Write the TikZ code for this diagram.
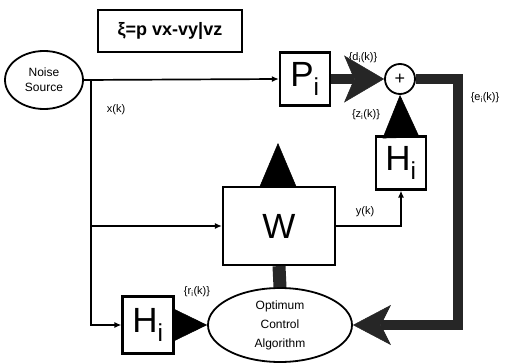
\documentclass[tikz,border=0pt]{standalone}
\usepackage{fontspec}
\setmainfont{Liberation Sans}
\usetikzlibrary{arrows.meta,shapes.geometric}
\begin{document}
\begin{tikzpicture}[x=1pt,y=-1pt,
  box/.style={draw, line width=2.2pt, minimum width=50pt, minimum height=53pt, inner sep=0pt, font=\fontsize{35}{35}\selectfont},
  lbl/.style={font=\fontsize{11}{13}\selectfont, inner sep=1pt},
  thinline/.style={line width=1.7pt},
  heavy/.style={line width=10pt, draw=black!85, line join=miter},
  smallarrow/.style={-{Latex[length=7pt,width=6pt]}},
  bigtri/.style={line width=0.4pt, fill=black!80, draw=black}
]
\useasboundingbox (0,0) rectangle (507,364);
% nodes
\node[draw, line width=2.5pt, minimum width=144pt, minimum height=42pt, fill=white, font=\bfseries\fontsize{18}{18}\selectfont] (garb) at (170,31) {ξ=p vx-vy|vz};
\node[ellipse, draw, line width=1.8pt, minimum width=78pt, minimum height=58pt, inner sep=0pt, align=center, font=\fontsize{12}{15}\selectfont] (noise) at (44,80) {Noise\\Source};
\node[box] (P) at (305,79) {P\textsubscript{i}};
\node[circle, draw, line width=1.8pt, minimum size=30pt, inner sep=0pt, font=\fontsize{18}{18}\selectfont] (plus) at (400,79) {+};
\node[box] (Hu) at (401,163) {H\textsubscript{i}};
\node[box, minimum width=112pt, minimum height=78pt] (W) at (279,226) {W};
\node[box, minimum width=51pt, minimum height=57pt] (Hl) at (148,325) {H\textsubscript{i}};
\node[ellipse, draw, line width=1.8pt, minimum width=144pt, minimum height=74pt, inner sep=0pt, align=center, font=\fontsize{12}{19}\selectfont] (oca) at (280,325) {Optimum\\Control\\Algorithm};
% labels
\node[lbl] (lx) at (116,110) {x(k)};
\node[lbl] (ld) at (363,58) {\{d\textsubscript{i}(k)\}};
\node[lbl] (lz) at (366,115) {\{z\textsubscript{i}(k)\}};
\node[lbl] (le) at (485,98) {\{e\textsubscript{i}(k)\}};
\node[lbl] (ly) at (365,212) {y(k)};
\node[lbl] (lr) at (197,292) {\{r\textsubscript{i}(k)\}};
% coordinates
\coordinate (split) at (91,80);
\coordinate (c1) at (458,79);
\coordinate (c2) at (458,325);
\coordinate (wtip) at (278,143);
% connectors
\draw[thinline, smallarrow] (noise.east |- split) -- (P.west);
\draw[thinline, smallarrow] (split) |- (W.west);
\draw[thinline, smallarrow] (split) |- (Hl.west);
\draw[thinline, smallarrow] (W.east) -| (Hu.south);
\draw[heavy, -{Stealth[length=40pt,width=47pt,inset=10pt,line width=0.5pt]}] (P.east) -- (plus.west);
\draw[heavy, -{Stealth[length=38pt,width=40pt,inset=10pt,line width=0.5pt]}] (plus.east) -- (c1) -- (c2) -- (oca.east);
\draw[line width=13pt, draw=black!85] (W.south) -- (oca.north);
\draw[bigtri, -{Triangle[length=43pt,width=37pt,line width=0.5pt]}] (Hu.north) -- (plus.south);
\draw[bigtri, -{Triangle[length=34pt,width=33pt,line width=0.5pt]}] (Hl.east) -- (oca.west);
\draw[bigtri, -{Triangle[length=44pt,width=37pt,line width=0.5pt]}] (W.north -| wtip) -- (wtip);
\end{tikzpicture}
\end{document}
